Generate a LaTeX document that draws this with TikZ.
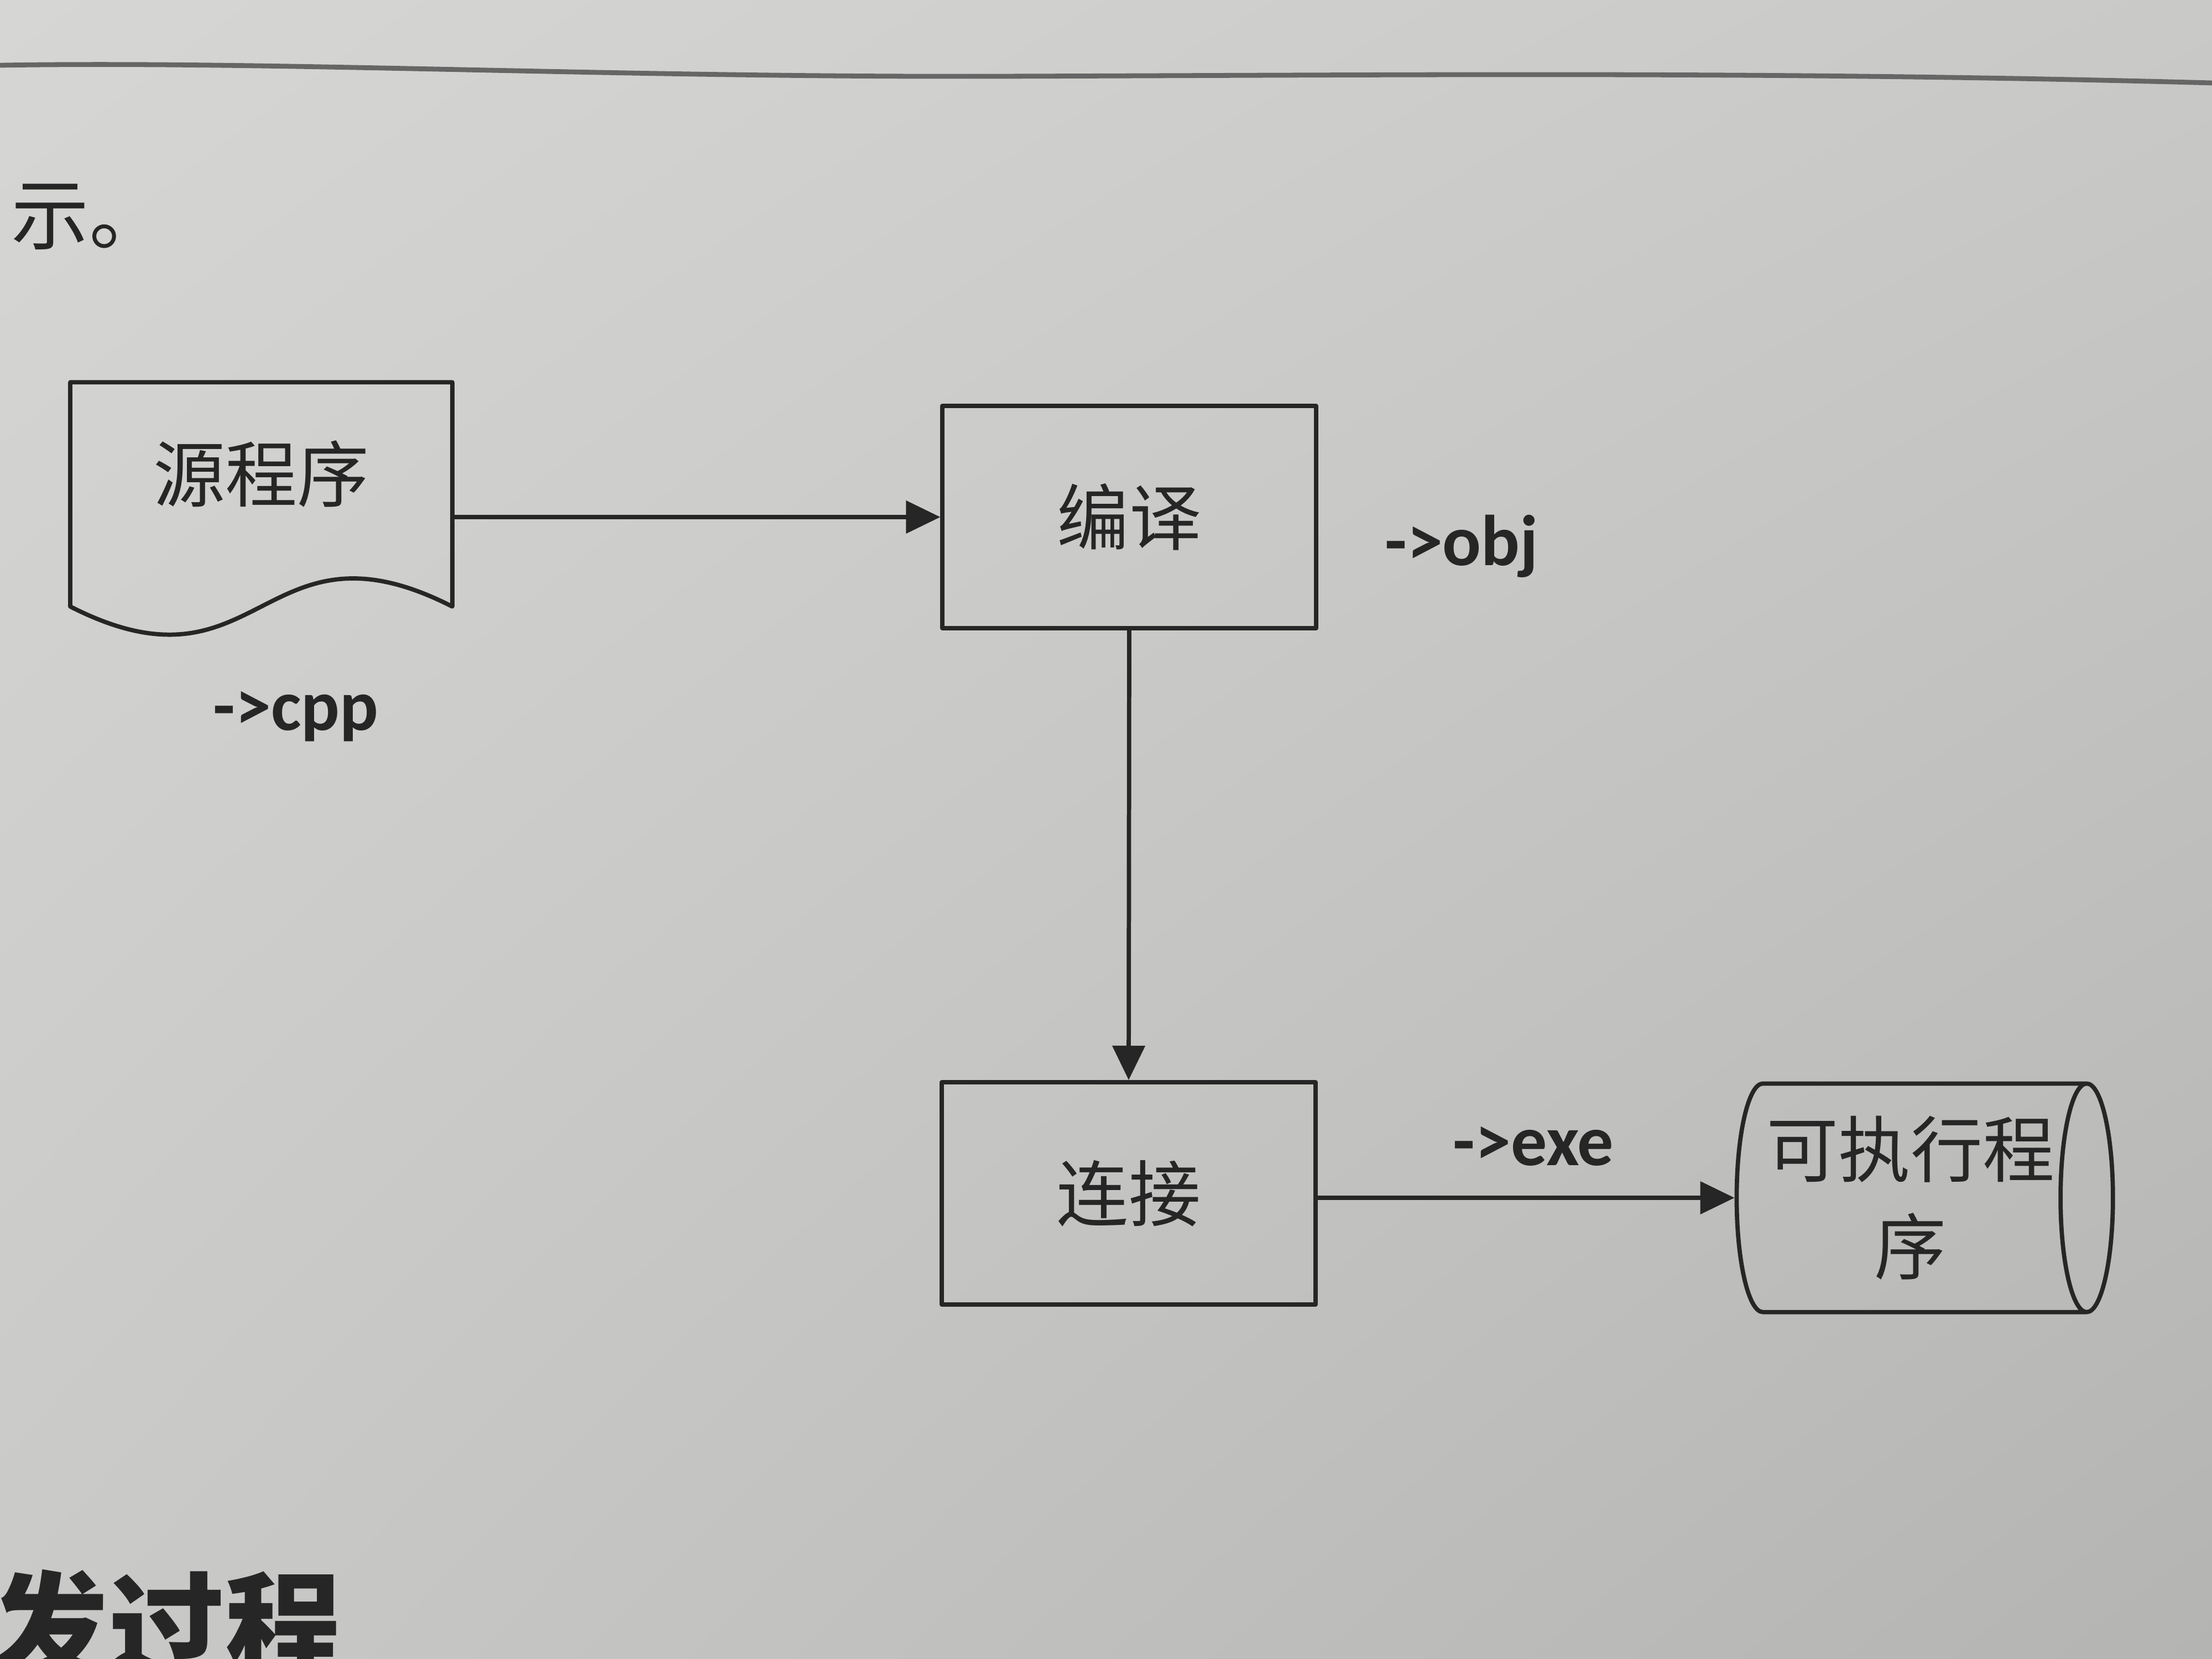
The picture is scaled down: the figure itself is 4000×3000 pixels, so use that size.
\documentclass[tikz,border=0pt]{standalone}
\usepackage{fontspec}
\setmainfont{Carlito}
\newfontfamily\zhfont{Noto Sans CJK SC}
\usetikzlibrary{arrows.meta,shapes.geometric,shadings}
\definecolor{paperhi}{RGB}{214,214,212}
\definecolor{papermid}{RGB}{201,201,199}
\definecolor{paperlo}{RGB}{180,180,178}
\definecolor{ink}{RGB}{38,38,38}
\newcommand{\zh}{\zhfont\fontsize{37pt}{50pt}\selectfont}

\begin{document}
\begin{tikzpicture}[x=0.01cm,y=-0.01cm,
  line/.style={draw=ink,line width=2.2pt,line join=round},
  flow/.style={line,-{Triangle[length=0.62cm,width=0.58cm]}},
  box/.style={line,minimum width=6.75cm,minimum height=4.02cm,inner sep=0pt,font=\zh,text=ink},
  tag/.style={font=\bfseries\fontsize{37pt}{44pt}\selectfont,text=ink,anchor=base,inner sep=0pt}]
  % page
  \path[use as bounding box,clip] (0,0) rectangle (4000,3000);
  \shade[upper left=paperhi,upper right=papermid,lower left=papermid,lower right=paperlo]
    (0,0) rectangle (4000,3000);
  \draw[black!60,line width=2.5pt] (0,118) .. controls (500,110) and (1100,140) .. (1800,138)
    .. controls (2500,136) and (3200,128) .. (4000,150);
  \node[font=\zhfont\fontsize{40pt}{40pt}\selectfont,text=ink,anchor=west,inner sep=0pt] (note) at (20,392) {示。};
  \node[font=\zhfont\bfseries\fontsize{60pt}{60pt}\selectfont,text=ink,anchor=north west,inner sep=0pt] (head) at (-15,2837) {发过程};

  % source document
  \node[minimum width=6.89cm,minimum height=4.04cm,inner sep=0pt] (src) at (472.5,894) {};
  \draw[line] (src.south west) -- (src.north west) -- (src.north east) -- (src.south east)
    .. controls ([yshift=1.76cm]src.south) and ([yshift=-1.76cm]src.south) .. cycle;
  \node[font=\zh,text=ink] (srctext) at ([yshift=0.37cm]src.center) {源程序};

  % steps
  \node[box] (cmp) at (2042,935) {编译};
  \node[box] (lnk) at (2041,2158) {连接};
  \node[line,shape=cylinder,aspect=0.32,minimum height=6.8cm,minimum width=4.13cm,inner sep=0pt,
    font=\zh,text=ink,align=center] (exe) at (3455,2166) {可执行程\\序};

  \draw[flow] (src.east |- cmp.west) -- (cmp.west);
  \draw[flow] (cmp.south) -- (lnk.north);
  \draw[flow] (lnk.east |- exe.west) -- (exe.west);

  \node[tag] (cpp) at (535,1320) {->cpp};
  \node[tag] (obj) at (2643,1022) {->obj};
  \node[tag] (exetag) at (2773,2107) {->exe};
\end{tikzpicture}
\end{document}
